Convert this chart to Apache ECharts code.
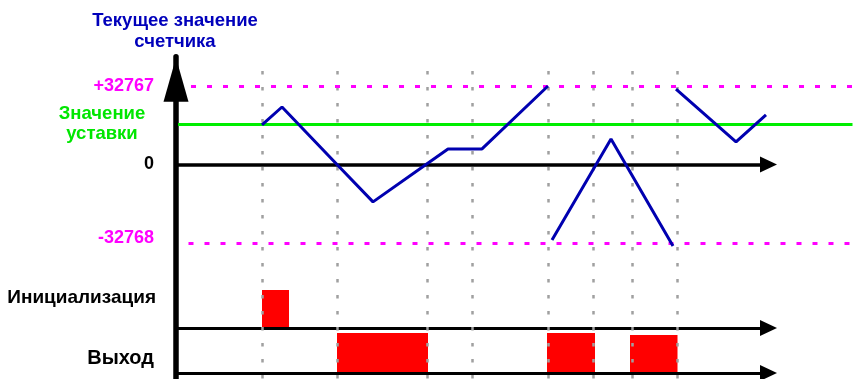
<!DOCTYPE html>
<html>
<head>
<meta charset="utf-8">
<script src="https://cdn.jsdelivr.net/npm/echarts@6/dist/echarts.min.js"></script>
<style>
  html, body { margin: 0; padding: 0; background: #fff; }
  #chart { width: 853px; height: 379px; }
</style>
</head>
<body>
<div id="chart"></div>
<script>
// моменты событий (пунктирные вертикали), в условных единицах времени
var eventTimes = [17.2, 32.2, 50.2, 59.2, 74.4, 83.4, 91.2, 100.2];

// значение счетчика, три участка [время, значение]
var counterPart1 = [[17.2, 16500], [21.2, 24000], [32.2, 0], [39.4, -15600], [50, 0], [54.4, 6500], [61.2, 6500], [74.4, 32767]];
var counterPart2 = [[75.2, -31500], [87, 10600], [99.4, -34000]];
var counterPart3 = [[100, 31500], [112, 9400], [118, 20700]];

var setpoint = 17000;
var limitHigh = 32767;
var limitLow = -32768;

// подписи оси счетчика
var counterTickValues = [32767, 17000, 0, -32768];
var counterTickLabels = ['+32767', 'Значение\nуставки', '0', '-32768'];

// импульсы [начало, конец, высота]
var initPulses = [[17.2, 22.6, 0.76]];
var outPulses = [[32.2, 50.4, 1], [74.2, 83.8, 1], [90.8, 100.3, 0.95]];

var laneNames = ['Инициализация', 'Выход'];

var FONT = 'Liberation Sans';
var chart = echarts.init(document.getElementById('chart'));

function renderPulse(params, api) {
    var p0 = api.coord([api.value(0), api.value(2)]);
    var p1 = api.coord([api.value(1), 0]);
    return {
        type: 'rect',
        shape: { x: p0[0], y: p0[1], width: p1[0] - p0[0], height: p1[1] - p0[1] },
        style: { fill: '#ff0000' }
    };
}

var eventLines = eventTimes.map(function (t) {
    return [{ coord: [t, 39000] }, { coord: [t, -90000] }];
});

var option = {
    animation: false,
    backgroundColor: '#fff',
    graphic: [{
        type: 'text',
        x: 175,
        y: 10,
        style: {
            text: 'Текущее значение\nсчетчика',
            align: 'center',
            verticalAlign: 'top',
            fontFamily: FONT,
            fontWeight: 'bold',
            fontSize: 18.5,
            lineHeight: 21,
            fill: '#0000bb'
        }
    }],
    grid: [
        { left: 176, top: 56.7, width: 677, height: 323.4, outerBoundsMode: 'none' },
        { left: 176, top: 278, width: 592.5, height: 50, outerBoundsMode: 'none' },
        { left: 176, top: 333, width: 592.5, height: 40, outerBoundsMode: 'none' }
    ],
    xAxis: [
        { gridIndex: 0, type: 'value', min: 0, max: 135.4, show: false },
        {
            gridIndex: 1, type: 'value', min: 0, max: 118.5, z: 3,
            axisLine: { show: true, symbol: ['none', 'triangle'], symbolSize: [16, 17], lineStyle: { color: '#000', width: 3 } },
            axisTick: { show: false }, axisLabel: { show: false }, splitLine: { show: false }
        },
        {
            gridIndex: 2, type: 'value', min: 0, max: 118.5, z: 3,
            axisLine: { show: true, symbol: ['none', 'triangle'], symbolSize: [16, 17], lineStyle: { color: '#000', width: 3 } },
            axisTick: { show: false }, axisLabel: { show: false }, splitLine: { show: false }
        }
    ],
    yAxis: [
        {
            gridIndex: 0, type: 'value', min: -90000, max: 45000, z: 3,
            axisLine: { show: true, symbol: ['none', 'triangle'], symbolSize: [25, 44], symbolOffset: [0, -23], lineStyle: { color: '#000', width: 5.5 } },
            axisTick: { show: false },
            splitLine: { show: false },
            axisLabel: {
                customValues: counterTickValues,
                margin: 22,
                fontFamily: FONT,
                fontWeight: 'bold',
                fontSize: 18,
                formatter: function (v) {
                    var i = counterTickValues.indexOf(v);
                    var txt = counterTickLabels[i];
                    if (v === setpoint) return txt.split('\n').map(function (s) { return '{g|' + s + '}'; }).join('\n');
                    if (v === limitLow) return '{mn|' + txt + '}';
                    if (v === limitHigh) return '{m|' + txt + '}';
                    return '{k|' + txt + '}';
                },
                rich: {
                    m: { color: '#ff00ff', fontFamily: FONT, fontWeight: 'bold', fontSize: 18 },
                    mn: { color: '#ff00ff', fontFamily: FONT, fontWeight: 'bold', fontSize: 18, padding: [0, 0, 10, 0] },
                    k: { color: '#000', fontFamily: FONT, fontWeight: 'bold', fontSize: 18 },
                    g: { color: '#00e600', fontFamily: FONT, fontWeight: 'bold', fontSize: 18.5, width: 104, align: 'center', lineHeight: 20 }
                }
            }
        },
        {
            gridIndex: 1, type: 'value', min: 0, max: 1,
            axisLine: { show: false }, axisTick: { show: false }, splitLine: { show: false },
            axisLabel: {
                customValues: [0.6], margin: 20,
                color: '#000', fontFamily: FONT, fontWeight: 'bold', fontSize: 19,
                formatter: function () { return laneNames[0]; }
            }
        },
        {
            gridIndex: 2, type: 'value', min: 0, max: 1,
            axisLine: { show: false }, axisTick: { show: false }, splitLine: { show: false },
            axisLabel: {
                customValues: [0.375], margin: 22,
                color: '#000', fontFamily: FONT, fontWeight: 'bold', fontSize: 20,
                formatter: function () { return laneNames[1]; }
            }
        }
    ],
    series: [
        {
            // вспомогательные линии: события, пределы, уставка
            type: 'line', xAxisIndex: 0, yAxisIndex: 0, data: [], silent: true, z: 4,
            markLine: {
                silent: true, animation: false, symbol: 'none', label: { show: false },
                data: eventLines.map(function (d) {
                    return [Object.assign({ lineStyle: { color: '#a0a0a0', width: 2.5, type: [3.5, 12.5] } }, d[0]), d[1]];
                }).concat([
                    [{ coord: [3, limitHigh], lineStyle: { color: '#ff00ff', width: 3, type: [5, 11] } }, { coord: [135.3, limitHigh] }],
                    [{ coord: [2.5, limitLow], lineStyle: { color: '#ff00ff', width: 3, type: [5, 11] } }, { coord: [135.3, limitLow] }],
                    [{ coord: [0.4, setpoint], lineStyle: { color: '#00ee00', width: 3, type: 'solid' } }, { coord: [135.3, setpoint] }]
                ])
            }
        },
        {
            // ось 0 со стрелкой
            type: 'line', xAxisIndex: 0, yAxisIndex: 0, data: [], silent: true, z: 3,
            markLine: {
                silent: true, animation: false, label: { show: false },
                symbol: ['none', 'triangle'], symbolSize: [16, 17],
                data: [[{ coord: [0, 0], lineStyle: { color: '#000', width: 3.5, type: 'solid' } }, { coord: [118.5, 0] }]]
            }
        },
        { type: 'line', xAxisIndex: 0, yAxisIndex: 0, data: counterPart1, symbol: 'none', clip: false, z: 5, lineStyle: { color: '#0000b0', width: 3 } },
        { type: 'line', xAxisIndex: 0, yAxisIndex: 0, data: counterPart2, symbol: 'none', clip: false, z: 5, lineStyle: { color: '#0000b0', width: 3 } },
        { type: 'line', xAxisIndex: 0, yAxisIndex: 0, data: counterPart3, symbol: 'none', clip: false, z: 5, lineStyle: { color: '#0000b0', width: 3 } },
        { type: 'custom', xAxisIndex: 1, yAxisIndex: 1, data: initPulses, renderItem: renderPulse, encode: { x: [0, 1], y: 2 }, z: 1, silent: true },
        { type: 'custom', xAxisIndex: 2, yAxisIndex: 2, data: outPulses, renderItem: renderPulse, encode: { x: [0, 1], y: 2 }, z: 1, silent: true }
    ]
};

chart.setOption(option);
</script>
</body>
</html>
